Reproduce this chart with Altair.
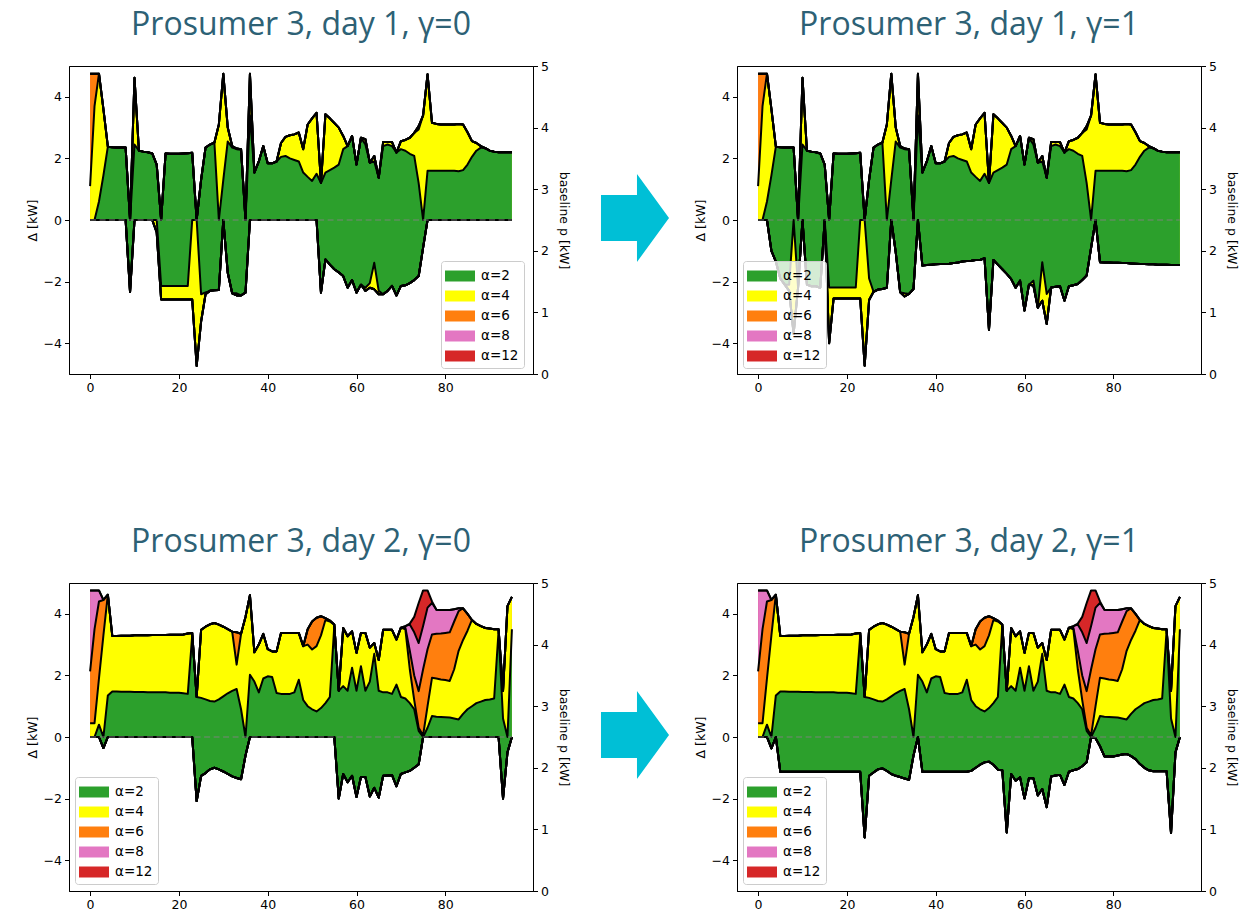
import altair as alt
import pandas as pd

# ---------------- data ----------------
T = list(range(96))
ALPHAS = [2, 4, 6, 8, 12]
ALPHA_LABELS = ["α=2", "α=4", "α=6", "α=8", "α=12"]
ALPHA_COLORS = ["#2ca02c", "#ffff00", "#ff7f0e", "#e377c2", "#d62728"]
X_TICKS = [0, 20, 40, 60, 80]
Y_TICKS = [-4, -2, 0, 2, 4]
P_TICKS = [0, 1, 2, 3, 4, 5]
TITLES = ["Prosumer 3, day 1, γ=0", "Prosumer 3, day 1, γ=1",
          "Prosumer 3, day 2, γ=0", "Prosumer 3, day 2, γ=1"]


def changed(base, changes):
    out = list(base)
    for i, v in changes.items():
        out[i] = v
    return out


# day 1, upper bounds (same for gamma 0 and 1)
HI2_D1 = [0, 0, 0.6, 1.45, 2.38, 2.36, 2.35, 2.35, 2.35, 0,
          2.45, 2.25, 2.22, 2.2, 2.16, 1.8, 0, 2.16, 2.15, 2.15,
          2.15, 2.16, 2.17, 2.18, 0, 1.3, 2.35, 2.45, 2.5, 0,
          1.3, 2.55, 2.35, 2.3, 2.28, 0, 3.4, 1.54, 1.9, 2.4,
          1.84, 1.84, 1.9, 2.05, 2.08, 2.0, 1.95, 1.9, 1.54, 1.4,
          1.27, 1.5, 1.2, 1.54, 1.62, 1.7, 1.8, 2.3, 2.4, 2.73,
          1.8, 2.67, 2.45, 1.86, 1.9, 1.37, 2.4, 2.45, 2.4, 2.19,
          2.3, 2.25, 2.15, 2.08, 1.2, 0, 1.6, 1.6, 1.6, 1.6,
          1.6, 1.6, 1.6, 1.58, 1.62, 1.8, 2.05, 2.25, 2.35, 2.33,
          2.25, 2.22, 2.2, 2.2, 2.2, 2.2]
HI4_D1 = [1.1, 3.7, 4.75, 3.6, 2.38, 2.36, 2.35, 2.35, 2.35, 0,
          4.62, 2.25, 2.22, 2.2, 2.16, 1.8, 0, 2.16, 2.15, 2.15,
          2.15, 2.16, 2.17, 2.18, 0, 1.3, 2.35, 2.45, 2.52, 3.1,
          4.75, 3.0, 2.4, 2.32, 2.3, 0, 4.75, 1.54, 1.9, 2.4,
          1.84, 1.84, 1.9, 2.5, 2.7, 2.75, 2.78, 2.84, 2.3, 3.1,
          3.3, 3.48, 1.2, 3.43, 3.3, 3.15, 3.0, 2.73, 2.4, 2.73,
          1.8, 2.67, 2.62, 1.86, 2.08, 1.37, 2.53, 2.53, 2.53, 2.19,
          2.56, 2.6, 2.67, 2.83, 2.94, 3.4, 4.73, 3.16, 3.12, 3.1,
          3.1, 3.1, 3.1, 3.12, 3.1, 2.85, 2.56, 2.5, 2.4, 2.33,
          2.25, 2.22, 2.2, 2.2, 2.2, 2.2]
HI6_D1 = changed(HI4_D1, {0: 4.75, 1: 4.75, 74: 3.05})

# day 1, lower bounds
LO2_D1_G0 = [0, 0, 0, 0, 0, 0, 0, 0, 0, -2.34,
             0, 0, 0, 0, 0, 0, -2.14, -2.14, -2.14, -2.14,
             -2.14, -2.14, -2.14, 0, 0, -2.41, -2.35, -2.3, -2.28, -2.27,
             0, -1.71, -2.38, -2.38, -2.45, -2.36, 0, 0, 0, 0,
             0, 0, 0, 0, 0, 0, 0, 0, 0, 0,
             0, 0, -2.36, -1.28, -1.45, -1.6, -1.7, -1.82, -2.2, -1.95,
             -2.36, -2.1, -2.2, -2.05, -1.39, -2.3, -2.41, -2.3, -2.14, -2.45,
             -2.14, -2.12, -2.05, -1.95, -1.82, -0.9, 0, 0, 0, 0,
             0, 0, 0, 0, 0, 0, 0, 0, 0, 0,
             0, 0, 0, 0, 0, 0]
LO4_D1_G0 = changed(LO2_D1_G0, {15: -0.4, 16: -2.58, 17: -2.58, 18: -2.58, 19: -2.58,
                                20: -2.58, 21: -2.58, 22: -2.58, 23: -2.58, 24: -4.74,
                                25: -3.3, 26: -2.41, 33: -2.45, 62: -2.3, 63: -2.2,
                                64: -2.25, 65: -2.41})
LO2_D1_G1 = [0, 0, 0, -1.0, -1.35, -1.9, -2.1, -2.1, 0, -2.2,
             0, -2.1, -2.15, -2.15, -2.2, 0, -2.19, -2.19, -2.19, -2.19,
             -2.19, -2.19, -2.19, 0, 0, -1.9, -2.33, -2.26, -2.24, -2.2,
             0, -1.05, -2.35, -2.38, -2.4, -2.24, 0, -1.48, -1.46, -1.45,
             -1.44, -1.43, -1.43, -1.42, -1.4, -1.38, -1.35, -1.33, -1.32, -1.3,
             -1.3, -1.24, -3.56, -1.3, -1.45, -1.6, -1.75, -1.92, -2.2, -1.97,
             -2.94, -2.1, -1.97, -2.85, -1.37, -2.4, -2.19, -2.17, -2.15, -2.62,
             -2.15, -2.12, -2.08, -1.95, -1.8, -0.9, 0, -1.37, -1.38, -1.38,
             -1.39, -1.39, -1.4, -1.4, -1.41, -1.42, -1.43, -1.43, -1.44, -1.44,
             -1.45, -1.45, -1.45, -1.46, -1.46, -1.46]
LO4_D1_G1 = changed(LO2_D1_G1, {7: -2.3, 8: -3.7, 16: -4.0, 17: -2.55, 18: -2.55,
                                19: -2.55, 20: -2.55, 21: -2.55, 22: -2.55, 23: -2.55,
                                24: -4.73, 25: -2.6, 33: -2.48, 62: -2.13, 64: -2.62,
                                65: -3.38})

# day 2, upper bounds (same for gamma 0 and 1)
HI2_D2 = [0, 0, 0.4, 0, 1.35, 1.48, 1.48, 1.47, 1.47, 1.47,
          1.46, 1.46, 1.46, 1.45, 1.45, 1.45, 1.45, 1.45, 1.44, 1.44,
          1.44, 1.42, 1.4, 3.3, 1.3, 1.27, 1.22, 1.17, 1.15, 1.22,
          1.32, 1.42, 1.5, 1.56, 0.9, 0, 2.02, 1.8, 1.45, 1.9,
          1.97, 1.95, 1.43, 1.4, 1.4, 1.4, 1.45, 1.86, 1.2, 1.0,
          0.9, 0.83, 0.94, 1.1, 1.3, 3.6, 1.5, 1.65, 1.5, 2.25,
          1.5, 2.3, 1.5, 1.8, 2.7, 1.5, 1.45, 1.45, 1.4, 1.7,
          1.3, 1.25, 1.1, 0.9, 0.2, 0, 0.3, 0.68, 0.66, 0.65,
          0.64, 0.63, 0.6, 0.57, 0.75, 0.9, 1.0, 1.1, 1.15, 1.2,
          1.22, 1.25, 3.45, 0.6, 0, 3.5]
HI4_D2 = [0.45, 0.45, 1.9, 3.3, 4.62, 3.28, 3.28, 3.29, 3.29, 3.29,
          3.3, 3.3, 3.3, 3.3, 3.31, 3.31, 3.31, 3.31, 3.32, 3.32,
          3.32, 3.33, 3.36, 3.38, 1.3, 3.48, 3.58, 3.66, 3.7, 3.65,
          3.58, 3.5, 3.42, 2.35, 3.35, 3.9, 4.6, 2.75, 3.0, 3.35,
          2.85, 2.78, 2.78, 3.38, 3.38, 3.38, 3.38, 3.38, 2.95, 3.0,
          2.84, 2.95, 3.3, 3.8, 3.75, 3.65, 1.5, 3.54, 3.27, 3.43,
          2.73, 3.38, 3.38, 2.9, 3.05, 2.5, 3.48, 3.48, 3.48, 3.16,
          3.55, 3.5, 2.2, 1.2, 0.3, 0.05, 1.0, 1.92, 1.9, 1.87,
          1.85, 1.82, 2.2, 2.8, 3.15, 3.45, 3.8, 3.67, 3.6, 3.54,
          3.52, 3.5, 3.5, 1.5, 4.25, 4.55]
HI6_D2 = changed(HI4_D2, {0: 2.13, 1: 3.5, 2: 4.4, 3: 4.45, 33: 3.4, 49: 3.5, 50: 3.75,
                          51: 3.87, 52: 3.92, 53: 3.86, 54: 3.78, 71: 3.55, 72: 2.8,
                          73: 2.0, 74: 1.49, 75: 2.2, 76: 2.85, 77: 3.33, 78: 3.35,
                          79: 3.36, 80: 3.38, 81: 3.4, 82: 3.75, 83: 4.09, 84: 4.18,
                          85: 4.0, 86: 3.8})
HI8_D2 = changed(HI6_D2, {0: 4.76, 1: 4.76, 2: 4.76, 71: 3.6, 72: 3.65, 73: 3.4, 74: 3.05,
                          75: 3.6, 76: 4.2, 77: 4.35, 78: 4.13, 79: 4.12, 80: 4.12,
                          81: 4.12, 82: 4.15, 83: 4.18, 84: 4.18})
HI12_D2 = changed(HI8_D2, {72: 3.68, 73: 3.9, 74: 4.35, 75: 4.76, 76: 4.76, 77: 4.4})

# day 2, lower bounds (all alpha levels coincide)
LO_D2_G0 = [0, 0, 0, -0.36, 0, 0, 0, 0, 0, 0,
            0, 0, 0, 0, 0, 0, 0, 0, 0, 0,
            0, 0, 0, 0, -2.08, -1.26, -1.17, -1.05, -1.0, -1.05,
            -1.12, -1.2, -1.28, -1.33, -1.37, -0.6, 0, 0, 0, 0,
            0, 0, 0, 0, 0, 0, 0, 0, 0, 0,
            0, 0, 0, 0, 0, 0, -2.0, -1.2, -1.47, -1.26,
            -1.95, -1.3, -1.3, -1.93, -1.65, -1.97, -1.26, -1.25, -1.24, -1.6,
            -1.2, -1.15, -1.1, -1.0, -0.89, 0, 0, 0, 0, 0,
            0, 0, 0, 0, 0, 0, 0, 0, 0, 0,
            0, 0, 0, -2.0, -0.5, 0]
LO_D2_G1 = [0, 0, 0, -0.37, 0, -1.13, -1.13, -1.13, -1.13, -1.13,
            -1.13, -1.13, -1.13, -1.13, -1.13, -1.13, -1.13, -1.13, -1.13, -1.13,
            -1.13, -1.13, -1.13, -1.13, -3.26, -1.26, -1.15, -1.05, -1.02, -1.1,
            -1.2, -1.26, -1.3, -1.35, -1.39, -0.6, 0, -1.13, -1.13, -1.13,
            -1.13, -1.13, -1.13, -1.13, -1.13, -1.13, -1.13, -1.13, -1.1, -1.0,
            -0.9, -0.82, -0.8, -0.9, -1.06, -1.08, -3.1, -1.2, -1.42, -1.31,
            -2.0, -1.34, -1.34, -1.9, -1.69, -2.28, -1.28, -1.25, -1.23, -1.56,
            -1.13, -1.08, -1.04, -0.95, -0.82, 0, -0.04, -0.3, -0.63, -0.63,
            -0.63, -0.6, -0.57, -0.55, -0.62, -0.72, -0.88, -1.0, -1.08, -1.11,
            -1.11, -1.11, -1.11, -3.12, -0.5, 0]

for _arr in [HI2_D1, HI4_D1, HI6_D1, LO2_D1_G0, LO4_D1_G0, LO2_D1_G1, LO4_D1_G1,
             HI2_D2, HI4_D2, HI6_D2, HI8_D2, HI12_D2, LO_D2_G0, LO_D2_G1]:
    assert len(_arr) == 96

# ---------------- style ----------------
TITLE_COLOR = "#2d6175"
ARROW_COLOR = "#00bfd6"
FONT = "DejaVu Sans"
TITLE_SIZE = 32
ARROW_PATH = ("M-0.773,-0.523L0.045,-0.523L0.045,-1L0.773,0L0.045,1"
              "L0.045,0.523L-0.773,0.523Z")
SWATCH = "M-1.5,-0.55L1.5,-0.55L1.5,0.55L-1.5,0.55Z"

XSCALE = alt.Scale(domain=[-4.75, 99.75], nice=False, zero=False)
XAXIS = alt.Axis(values=X_TICKS, title=None, grid=False, format="d", labelFlush=False)
YSCALE = alt.Scale(domain=[-5, 5], nice=False, zero=False)
YAXIS = alt.Axis(values=Y_TICKS, title="Δ [kW]", grid=False, format="d", titlePadding=4)
PSCALE = alt.Scale(domain=[0, 5], nice=False, zero=False)
PAXIS = alt.Axis(values=P_TICKS, title="baseline p [kW]", grid=False, format="d",
                 orient="right", titlePadding=8)


def panel(hi, lo, title, legend_xy, with_arrow):
    rows, lrows = [], []
    for a, lab in zip(ALPHAS, ALPHA_LABELS):
        for t in T:
            rows.append({"t": t, "alpha": lab, "hi": hi[a][t], "lo": lo[a][t]})
            lrows.append({"t": t, "key": f"{a}hi", "v": hi[a][t]})
            lrows.append({"t": t, "key": f"{a}lo", "v": lo[a][t]})
    df = pd.DataFrame(rows)
    ldf = pd.DataFrame(lrows)
    zdf = pd.DataFrame({"t": T, "z": [0] * len(T)})

    xenc = alt.X("t:Q", scale=XSCALE, axis=XAXIS)
    color = alt.Color(
        "alpha:N",
        scale=alt.Scale(domain=ALPHA_LABELS, range=ALPHA_COLORS),
        legend=alt.Legend(title=None, orient="none", legendX=legend_xy[0],
                          legendY=legend_xy[1],
                          symbolType=SWATCH, symbolSize=400, symbolStrokeWidth=0,
                          symbolOpacity=1, labelFont=FONT, labelFontSize=13.5,
                          labelColor="black", fillColor="rgba(255,255,255,0.8)",
                          strokeColor="#cccccc", cornerRadius=3, padding=5,
                          rowPadding=3, labelOffset=11, symbolOffset=4),
    )
    layers = []
    for lab in reversed(ALPHA_LABELS):
        layers.append(
            alt.Chart(df).transform_filter(alt.datum.alpha == lab)
            .mark_area(opacity=1, interpolate="linear")
            .encode(x=xenc, y=alt.Y("hi:Q", scale=YSCALE, axis=YAXIS), y2="lo:Q",
                    color=color)
        )
    layers.append(
        alt.Chart(ldf).mark_line(color="black", strokeWidth=2, strokeJoin="round")
        .encode(x=xenc, y=alt.Y("v:Q", scale=YSCALE, axis=YAXIS), detail="key:N")
    )
    layers.append(
        alt.Chart(zdf).mark_line(color="#808080", opacity=0.6, strokeWidth=1.5,
                                 strokeDash=[6, 3.5])
        .encode(x=xenc, y=alt.Y("z:Q", scale=YSCALE, axis=YAXIS))
    )
    if with_arrow:
        layers.append(
            alt.Chart(pd.DataFrame({"k": [0]}))
            .mark_point(shape=ARROW_PATH, size=7744, filled=True, color=ARROW_COLOR,
                        opacity=1, strokeWidth=0)
            .encode(x=alt.value(566), y=alt.value(152))
        )
    inner = alt.layer(*layers)
    right = (alt.Chart(pd.DataFrame({"p": [0]})).mark_rule(opacity=0)
             .encode(y=alt.Y("p:Q", scale=PSCALE, axis=PAXIS)))
    return (alt.layer(inner, right).resolve_scale(y="independent")
            .properties(width=464, height=308,
                        title=alt.TitleParams(text=title, font="Open Sans",
                                              fontSize=TITLE_SIZE,
                                              fontWeight="normal", color=TITLE_COLOR,
                                              anchor="middle", frame="group",
                                              offset=31 - 1.2 * TITLE_SIZE,
                                              baseline="alphabetic")))


def hmap(h2, h4, h6, h8, h12):
    return {2: h2, 4: h4, 6: h6, 8: h8, 12: h12}


HI_D1 = hmap(HI2_D1, HI4_D1, HI6_D1, HI6_D1, HI6_D1)
HI_D2 = hmap(HI2_D2, HI4_D2, HI6_D2, HI8_D2, HI12_D2)
p1 = panel(HI_D1, hmap(LO2_D1_G0, LO4_D1_G0, LO4_D1_G0, LO4_D1_G0, LO4_D1_G0),
           TITLES[0], (372, 195), True)
p2 = panel(HI_D1, hmap(LO2_D1_G1, LO4_D1_G1, LO4_D1_G1, LO4_D1_G1, LO4_D1_G1),
           TITLES[1], (6, 195), False)
p3 = panel(HI_D2, hmap(*([LO_D2_G0] * 5)), TITLES[2], (6, 194), True)
p4 = panel(HI_D2, hmap(*([LO_D2_G1] * 5)), TITLES[3], (6, 194), False)


def row(a, b):
    return (alt.hconcat(a, b, spacing=23)
            .resolve_scale(color="independent", x="independent", y="independent")
            .resolve_legend(color="independent"))


chart = (alt.vconcat(row(p1, p2), row(p3, p4), spacing=130)
         .resolve_scale(color="independent", x="independent", y="independent")
         .resolve_legend(color="independent")
         .properties(padding={"left": 17, "top": 0, "right": 2, "bottom": 2},
                     background="white")
         .configure_view(stroke="black", strokeWidth=1)
         .configure_axis(labelFont=FONT, labelFontSize=12.5, labelColor="black",
                         titleFont=FONT, titleFontSize=12.5, titleFontWeight="normal",
                         titleColor="black", tickColor="black", domainColor="black",
                         tickSize=4.5, labelPadding=3, grid=False))

chart.save("out.html", embed_options={"renderer": "svg", "actions": False})
